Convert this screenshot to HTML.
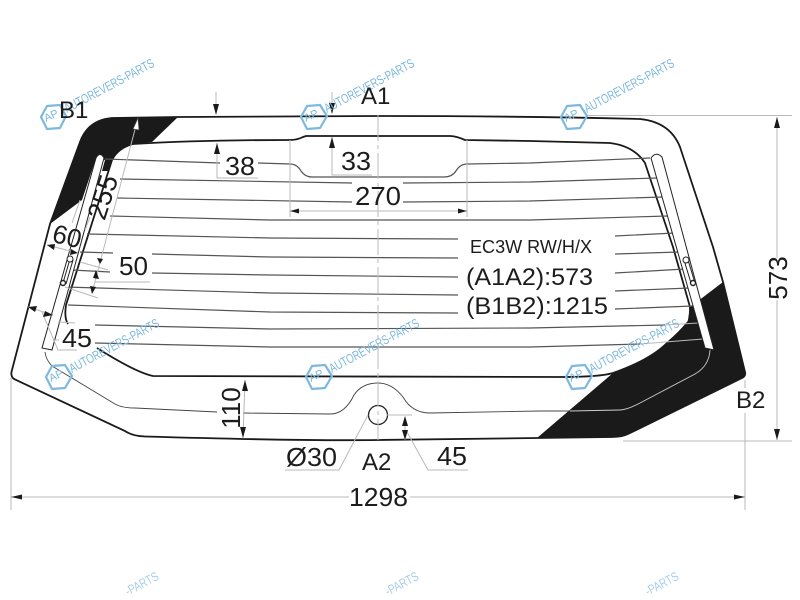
<!DOCTYPE html>
<html><head><meta charset="utf-8"><style>
html,body{margin:0;padding:0;background:#fff;width:800px;height:600px;overflow:hidden}
svg{display:block}
text{font-family:"Liberation Sans",sans-serif;fill:#1c1c1c}
.wm{font-size:13px;fill:#7db9de}
.wl{font-size:13px;fill:#a9d0ea}
.ap{font-size:11px;fill:#7db9de}
.d{font-size:26px}
.l{font-size:24px}
.g{stroke:#b9b9b9;stroke-width:1;fill:none}
.h{stroke:#555;stroke-width:1.2;fill:none}
.k{stroke:#1a1a1a;stroke-width:1.8;fill:none}
.a{fill:#1a1a1a;stroke:none}
.hex{fill:none;stroke:#7db9de;stroke-width:2.2;stroke-linejoin:round}
</style></head><body>
<svg width="800" height="600" viewBox="0 0 800 600" xmlns="http://www.w3.org/2000/svg">
<rect width="800" height="600" fill="#fff"/>

<!-- black ceramic areas -->
<path class="a" d="M50 224 L80 142 Q88 120 112 118 L178 117 L152 142 L133 144 Q118 148 112 160 L108 171 L102 171 L105 160 L96 158 L82 200 Z"/>
<path class="a" d="M723 282 L745 372 Q746 376 742 378 L628 434 Q622 437 612 437 L537 438 L613 373 Q650 360 667 343 Q686 328 688 320 L690 307 L702 298 Z"/>

<!-- outer glass -->
<path class="k" d="M378 116 L178 117 L112 118 Q88 120 80 142 L50 224 L12 370 Q10 376 14 379 L125 431 Q132 436 145 436.500 Q300 441 378 440 L537 438 L612 437 Q622 437 628 434 L742 378 Q746 376 745 372 L723 282 L713 247 L680 147 Q670 122 640 119 Q520 116 378 116 Z"/>

<!-- inner print line -->
<path class="k" d="M133 144 Q200 140 290 140 Q297 140 303 137 L306 136 L450 136 Q456 136 465 140 L530 141 L610 143 Q634 146 645 163 L673 247 L690 307 Q690 322 687 323 Q680 332 667 343 Q650 360 613 373 Q600 377 560 377 L153 376 Q135 372 97 348"/>
<path class="k" d="M133 144 Q118 148 112 160 L66 305 Q64 318 68 324"/>

<!-- heater lines -->
<path class="h" d="M105 159 L220 163 M258 163 L290 164 Q297 164 301 171 Q305 177 312 177 L444 177 Q452 177 456 171 Q460 164 467 164 L530 163 L650 158"/>
<path class="h" d="M120 179 L352 183 M403 183 L530 182 L657 178"/>
<path class="h" d="M117 198 L352 202 M403 202 L530 201 L663 197"/>
<path class="h" d="M110 216 L270 220 L530 220 L668 216"/>
<path class="h" d="M87 234 L270 238 L458 239 M615 236 L675 233"/>
<path class="h" d="M80 252 L113 253 M152 254 L270 257 L458 258 M615 254 L680 252"/>
<path class="h" d="M72 270 L110 272 M152 273 L270 275 L458 277 M615 273 L685 269"/>
<path class="h" d="M65 287 L270 293 L458 295 M615 291 L690 288"/>
<path class="h" d="M68 305 L270 312 L458 313 M615 309 L693 306"/>
<path class="h" d="M95 325 L270 329 L530 328 L665 325"/>
<path class="h" d="M95 343 L270 347 L530 347 L640 344"/>
<path stroke="#bbb" stroke-width="1" fill="none" d="M665 325 L698 323 M640 344 L703 339"/>

<!-- mid offset line -->
<path fill="none" stroke="#444" stroke-width="0.9" d="M45 352 Q46 360 52 366 L115 404 Q122 408 135 408 L217 412 M243 413 L330 414 Q345 414 354 395 Q362 383 378 383 Q392 383 403 397 Q412 413 430 413 L540 411 L570 411"/>
<path fill="none" stroke="#ccc" stroke-width="0.9" d="M570 411 L620 410 Q627 410 640 403 L695 374 Q709 366 710 350"/>

<!-- heater bars -->
<path d="M96 158 Q100 151 104 158 L52 350 L42 348 Z" fill="#fff" stroke="#222" stroke-width="1"/>
<path d="M651 158 Q656 151 662 157 L714 350 L705 348 Z" fill="#fff" stroke="#222" stroke-width="1"/>
<path d="M70 259 L63 283 M73 260 L66 284" stroke="#222" stroke-width="1" fill="none"/>
<circle cx="70" cy="259" r="3" fill="#fff" stroke="#222"/>
<circle cx="63" cy="283" r="2.5" fill="#fff" stroke="#222" stroke-width="1.4"/>
<path d="M684 260 L691 283 M688 260 L695 283" stroke="#222" stroke-width="1" fill="none"/>
<circle cx="686" cy="260" r="3" fill="#fff" stroke="#222"/>
<circle cx="693" cy="283" r="2.5" fill="#fff" stroke="#222" stroke-width="1.4"/>

<!-- centre hole -->
<circle cx="378" cy="415" r="9.5" fill="#fff" stroke="#222" stroke-width="1.3"/>

<!-- centre line -->
<path stroke="#bbb" stroke-width="1" fill="none" stroke-dasharray="26 4 4 4" d="M378 115 L378 440"/>

<!-- dimension and extension lines -->
<path class="g" d="M216 92 L216 113 M217 143 L217 178 L258 178"/>
<path class="g" d="M332 92 L332 113 M332 137 L332 175 L372 175"/>
<path class="g" d="M290 140 L290 217 M467 140 L467 217 M290 211 L467 211"/>
<path class="g" d="M138 118 L92 293"/>
<path class="g" d="M95 282 L150 282 M80 262 L108 270 M65 287 L98 298"/>
<path class="g" d="M80 200 L72 223 M90 217 L85 230 M47 245 L78 253"/>
<path class="g" d="M28 307 L53 315 M42 312 L58 350 L77 350 M53 340 L59 340 M58 322 L75 323"/>
<path class="g" d="M245 380 L243 438"/>
<path class="g" d="M285 470 L339 470 L368 415"/>
<path class="g" d="M387 415 L412 415 M405 417 L405 440 M407 432 L428 470 L468 470"/>
<path class="g" d="M11 378 L11 510 M745 380 L745 388 M745 413 L745 510 M11 497 L349 497 M410 497 L745 497"/>
<path class="g" d="M587 115.500 L792 115.500 M623 441 L792 441 M777 117 L777 258 M777 300 L777 440"/>

<!-- arrowheads -->
<path class="a" d="M216 115 L213 104 L219 104 Z M217 143 L214 154 L220 154 Z"/>
<path class="a" d="M332 114 L329 103 L335 103 Z M332 137 L329 148 L335 148 Z"/>
<path class="a" d="M290 211 L299 208.500 L299 213.500 Z M467 211 L458 208.500 L458 213.500 Z"/>
<path fill="#fff" stroke="#444" stroke-width=".7" d="M138 118 L133 129 L139 130 Z"/>
<path class="a" d="M100 264 L97 258 L103 259 Z M96 270 L93 278 L99 279 Z M92 294 L90 286 L96 287 Z"/>
<path class="a" d="M47 245 L55 244 L54 250 Z M78 253 L71 249 L70 255 Z"/>
<path class="a" d="M28 307 L37 306 L35 312 Z M53 315 L45 311 L43 317 Z"/>
<path class="a" d="M245 380 L242 391 L248 391 Z M243 438 L240 427 L246 427 Z"/>
<path class="a" d="M405 416 L402 426 L408 426 Z M405 440 L402 430 L408 430 Z"/>
<path class="a" d="M11 497 L22 494.500 L22 499.500 Z M745 497 L734 494.500 L734 499.500 Z"/>
<path class="a" d="M777 117 L774 128 L780 128 Z M777 440 L774 429 L780 429 Z"/>

<!-- watermarks -->
<g>
<path class="hex" d="M41 117 L47 106 L60 105 L66 116 L60 128 L47 129 Z"/><text class="ap" x="46" y="122" transform="rotate(-25 46 122)">AP</text>
<text class="wm" x="67" y="113" textLength="100" lengthAdjust="spacingAndGlyphs" transform="rotate(-28 67 113)">AUTOREVERS-PARTS</text>
<path class="hex" d="M301 117 L307 106 L320 105 L327 116 L320 128 L307 129 Z"/><text class="ap" x="306" y="122" transform="rotate(-25 306 122)">AP</text>
<text class="wm" x="327" y="113" textLength="100" lengthAdjust="spacingAndGlyphs" transform="rotate(-28 327 113)">AUTOREVERS-PARTS</text>
<path class="hex" d="M561 117 L567 106 L580 105 L587 116 L580 128 L567 129 Z"/><text class="ap" x="566" y="122" transform="rotate(-25 566 122)">AP</text>
<text class="wm" x="587" y="113" textLength="100" lengthAdjust="spacingAndGlyphs" transform="rotate(-28 587 113)">AUTOREVERS-PARTS</text>
<path class="hex" d="M46 377 L52 366 L65 365 L72 376 L65 388 L52 389 Z"/><text class="ap" x="51" y="382" transform="rotate(-25 51 382)">AP</text>
<text class="wm" x="72" y="373" textLength="100" lengthAdjust="spacingAndGlyphs" transform="rotate(-28 72 373)">AUTOREVERS-PARTS</text>
<path class="hex" d="M306 377 L312 366 L325 365 L332 376 L325 388 L312 389 Z"/><text class="ap" x="311" y="382" transform="rotate(-25 311 382)">AP</text>
<text class="wm" x="332" y="373" textLength="100" lengthAdjust="spacingAndGlyphs" transform="rotate(-28 332 373)">AUTOREVERS-PARTS</text>
<path class="hex" d="M566 377 L572 366 L585 365 L592 376 L585 388 L572 389 Z"/><text class="ap" x="571" y="382" transform="rotate(-25 571 382)">AP</text>
<text class="wm" x="592" y="373" textLength="100" lengthAdjust="spacingAndGlyphs" transform="rotate(-28 592 373)">AUTOREVERS-PARTS</text>
<text class="wl" x="128" y="596" textLength="36" lengthAdjust="spacingAndGlyphs" transform="rotate(-28 128 596)">-PARTS</text>
<text class="wl" x="388" y="596" textLength="36" lengthAdjust="spacingAndGlyphs" transform="rotate(-28 388 596)">-PARTS</text>
<text class="wl" x="648" y="596" textLength="36" lengthAdjust="spacingAndGlyphs" transform="rotate(-28 648 596)">-PARTS</text>
</g>

<!-- labels -->
<text class="l" x="59" y="118">B1</text>
<text class="l" x="361" y="104">A1</text>
<text class="l" x="736" y="408">B2</text>
<text class="l" x="362" y="470">A2</text>
<text class="d" x="225" y="175" textLength="30" lengthAdjust="spacingAndGlyphs">38</text>
<text class="d" x="341" y="170" textLength="30" lengthAdjust="spacingAndGlyphs">33</text>
<text class="d" x="355" y="205" textLength="46" lengthAdjust="spacingAndGlyphs">270</text>
<text class="d" x="119" y="275" textLength="29" lengthAdjust="spacingAndGlyphs">50</text>
<text class="d" x="62" y="347" textLength="30" lengthAdjust="spacingAndGlyphs">45</text>
<text class="d" x="437" y="465" textLength="30" lengthAdjust="spacingAndGlyphs">45</text>
<text class="d" x="286" y="466" textLength="51" lengthAdjust="spacingAndGlyphs">Ø30</text>
<text class="d" x="349" y="506" textLength="59" lengthAdjust="spacingAndGlyphs">1298</text>
<text class="d" text-anchor="middle" transform="translate(111.500 200) rotate(-72)" style="font-size:27px">255</text>
<text class="d" text-anchor="middle" transform="translate(65 245) rotate(14)">60</text>
<text class="d" text-anchor="middle" transform="translate(240 408) rotate(-90)">110</text>
<text class="d" text-anchor="middle" transform="translate(787 278) rotate(-90)">573</text>
<text x="470" y="253" textLength="122" lengthAdjust="spacingAndGlyphs" style="font-size:18px">EC3W RW/H/X</text>
<text x="466" y="285" textLength="127" lengthAdjust="spacingAndGlyphs" style="font-size:24px">(A1A2):573</text>
<text x="466" y="314" textLength="142" lengthAdjust="spacingAndGlyphs" style="font-size:24px">(B1B2):1215</text>
</svg>
</body></html>
